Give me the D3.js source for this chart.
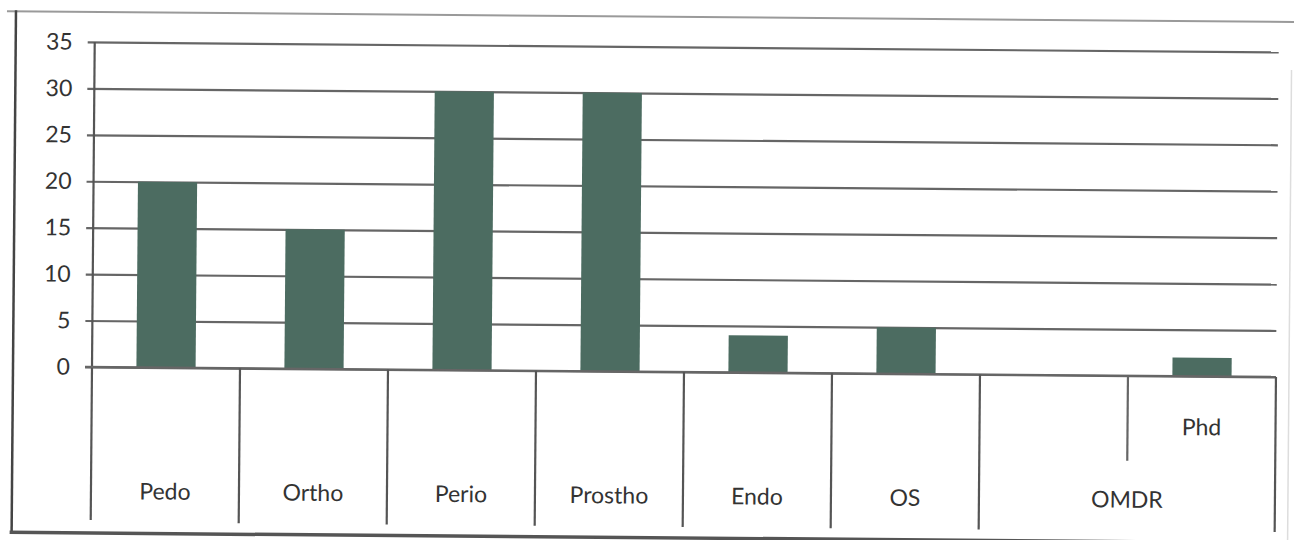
<!DOCTYPE html>
<html>
<head>
<meta charset="utf-8">
<script src="https://cdn.jsdelivr.net/npm/d3@7"></script>
<style>
  html, body { margin: 0; padding: 0; background: #fff; }
  svg { display: block; }
  text { font-family: Lato, "Liberation Sans", sans-serif; fill: #333; }
</style>
</head>
<body>
<svg id="chart" width="1294" height="540"></svg>
<script>
const categories = ["Pedo", "Ortho", "Perio", "Prostho", "Endo", "OS", "OMDR", "Phd"];
const values = [20, 15, 30, 30, 4, 5, 0, 2];
const outerLabels = ["Pedo", "Ortho", "Perio", "Prostho", "Endo", "OS", "OMDR", "OMDR"];
const innerLabels = ["", "", "", "", "", "", "", "Phd"];
const yTicks = [0, 5, 10, 15, 20, 25, 30, 35];

(function () {
const svg = d3.select("#chart");
const plotLeft = 92, plotRight = 1276, plotTop = 42, plotBase = 367, axisBottom = 520;
const fs = 23;

const root = svg.append("g").attr("transform", `rotate(0.48, ${plotLeft}, ${plotBase})`);

// outer frame
root.append("line").attr("x1", 4).attr("x2", 1300).attr("y1", 12).attr("y2", 12)
  .attr("stroke", "#9a9a9a").attr("stroke-width", 2);
root.append("line").attr("x1", 13).attr("x2", 13).attr("y1", 11).attr("y2", 534)
  .attr("stroke", "#444").attr("stroke-width", 2.5);
root.append("line").attr("x1", 11).attr("x2", 1300).attr("y1", 533).attr("y2", 533)
  .attr("stroke", "#555").attr("stroke-width", 3.5);
root.append("line").attr("x1", 1289).attr("x2", 1289).attr("y1", 60).attr("y2", 530)
  .attr("stroke", "#ddd").attr("stroke-width", 1.5);

const x = d3.scaleBand().domain(categories).range([plotLeft, plotRight])
  .paddingInner(0.6).paddingOuter(0.3);
const y = d3.scaleLinear().domain([0, 35]).range([plotBase, plotTop]);
const step = x.step();

// gridlines + y axis
const yAxis = d3.axisLeft(y).tickValues(yTicks).tickSize(-(plotRight - plotLeft)).tickPadding(22).tickSizeOuter(0);
const gy = root.append("g").attr("transform", `translate(${plotLeft},0)`).call(yAxis);
gy.select(".domain").remove();
gy.selectAll(".tick line").attr("x1", -7).attr("stroke", "#666").attr("stroke-width", 2.2);
gy.selectAll(".tick text").attr("font-size", fs).attr("fill", "#333")
  .attr("font-family", "Lato, 'Liberation Sans', sans-serif");

// y axis line
root.append("line").attr("x1", plotLeft).attr("x2", plotLeft).attr("y1", plotTop).attr("y2", axisBottom)
  .attr("stroke", "#555").attr("stroke-width", 2.2);

// bars
root.selectAll("rect.bar").data(categories).join("rect").attr("class", "bar")
  .attr("x", d => x(d))
  .attr("width", x.bandwidth())
  .attr("y", (d, i) => y(values[i]))
  .attr("height", (d, i) => y(0) - y(values[i]))
  .attr("fill", "#4c6c61");

// zero line on top
root.append("line").attr("x1", plotLeft - 7).attr("x2", plotRight).attr("y1", y(0)).attr("y2", y(0))
  .attr("stroke", "#666").attr("stroke-width", 2.2);

// group outer labels into spans
const groups = [];
outerLabels.forEach((lab, i) => {
  const last = groups[groups.length - 1];
  if (last && last.label === lab) last.end = i;
  else groups.push({ label: lab, start: i, end: i });
});
const bandStart = i => x(categories[i]) + x.bandwidth() / 2 - step / 2;
const bandEnd = i => x(categories[i]) + x.bandwidth() / 2 + step / 2;

// outer dividers and labels
groups.forEach(g => {
  root.append("line").attr("x1", bandEnd(g.end)).attr("x2", bandEnd(g.end))
    .attr("y1", y(0)).attr("y2", axisBottom + 2)
    .attr("stroke", "#555").attr("stroke-width", 2.2);
  root.append("text")
    .attr("x", (bandStart(g.start) + bandEnd(g.end)) / 2)
    .attr("y", 499)
    .attr("text-anchor", "middle")
    .attr("font-size", fs)
    .text(g.label);
});

// inner labels and dividers
innerLabels.forEach((lab, i) => {
  if (!lab) return;
  const xs = bandStart(i);
  if (outerLabels[i - 1] === outerLabels[i]) {
    root.append("line").attr("x1", xs).attr("x2", xs)
      .attr("y1", y(0)).attr("y2", 452)
      .attr("stroke", "#666").attr("stroke-width", 2.2);
  }
  root.append("text")
    .attr("x", x(categories[i]) + x.bandwidth() / 2)
    .attr("y", 426)
    .attr("text-anchor", "middle")
    .attr("font-size", fs)
    .text(lab);
});
})();
</script>
</body>
</html>
